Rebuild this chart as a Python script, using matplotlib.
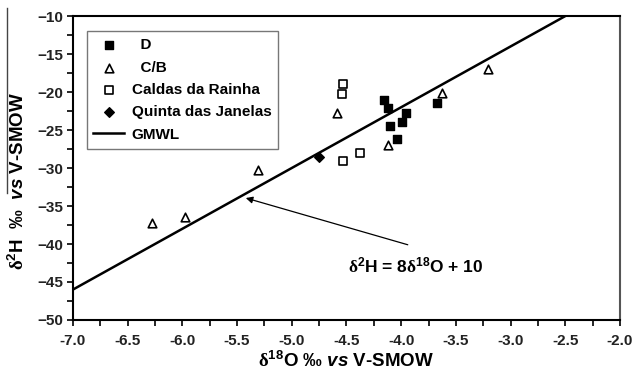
import matplotlib.pyplot as plt
import numpy as np

plt.rcParams['font.family'] = ['Liberation Sans', 'DejaVu Sans']
plt.rcParams['font.weight'] = 'bold'
plt.rcParams['mathtext.fontset'] = 'custom'
plt.rcParams['mathtext.rm'] = 'Liberation Sans:bold'
plt.rcParams['mathtext.it'] = 'Liberation Sans:italic:bold'
plt.rcParams['mathtext.bf'] = 'Liberation Sans:bold'
plt.rcParams['mathtext.cal'] = 'Liberation Serif'

# D group (filled squares)
d_x = [-4.16, -4.12, -3.96, -4.10, -3.99, -4.04, -3.67]
d_y = [-21.0, -22.1, -22.8, -24.5, -24.0, -26.2, -21.5]
# C/B group (open triangles)
cb_x = [-6.28, -5.98, -5.31, -4.59, -4.12, -3.63, -3.21]
cb_y = [-37.2, -36.5, -30.3, -22.7, -27.0, -20.1, -17.0]
# Caldas da Rainha (open squares)
cr_x = [-4.53, -4.54, -4.53, -4.38]
cr_y = [-19.0, -20.3, -29.1, -28.0]
# Quinta das Janelas (diamond)
qj_x = [-4.75]
qj_y = [-28.5]

# GMWL: d2H = 8*d18O + 10
gmwl_x = np.array([-7.0, -2.5])
gmwl_y = 8 * gmwl_x + 10

fig = plt.figure(figsize=(6.34, 3.79), dpi=100)
ax = fig.add_axes([0.115, 0.1557, 0.863, 0.802])

ax.scatter(d_x, d_y, marker='s', s=30, color='black', label='  D', zorder=3)
ax.scatter(cb_x, cb_y, marker='^', s=38, facecolor='white', edgecolor='black', linewidth=1.2, label='  C/B', zorder=3)
ax.scatter(cr_x, cr_y, marker='s', s=30, facecolor='white', edgecolor='black', linewidth=1.2, label='Caldas da Rainha', zorder=3)
ax.scatter(qj_x, qj_y, marker='D', s=24, color='black', label='Quinta das Janelas', zorder=3)
ax.plot(gmwl_x, gmwl_y, color='black', lw=1.8, label='GMWL', zorder=2)

# equation and arrow
ax.annotate('', xy=(-5.42, -33.95), xytext=(-3.94, -40.1),
            arrowprops=dict(arrowstyle='-|>', color='black', lw=0.9, shrinkA=0, shrinkB=0,
                            mutation_scale=10))
ax.text(-4.49, -42.8, r'$\mathcal{δ}^{2}$H = 8$\mathcal{δ}^{18}$O + 10', fontsize=12.5,
        fontweight='bold', va='center', ha='left')

ax.set_xlim(-7.0, -2.0)
ax.set_ylim(-50, -10)
ax.set_xticks(np.arange(-7.0, -1.99, 0.5))
ax.set_xticks(np.arange(-7.0, -1.99, 0.25), minor=True)
ax.set_yticks(np.arange(-50, -9, 5))
ax.set_yticks(np.arange(-50, -9, 2.5), minor=True)
ax.set_xticklabels(['%.1f' % v for v in np.arange(-7.0, -1.99, 0.5)])
ax.tick_params(which='both', direction='out', length=4, width=1.2, labelsize=11, colors='black')
ax.tick_params(axis='x', pad=6)
ax.tick_params(axis='y', pad=3)
for lab in ax.get_xticklabels() + ax.get_yticklabels():
    lab.set_fontweight('bold')
    lab.set_color('#222222')

for side in ['left', 'bottom', 'top']:
    ax.spines[side].set_linewidth(1.5)
    ax.spines[side].set_color('black')
ax.spines['right'].set_linewidth(1.5)
ax.spines['right'].set_color('#555555')

ax.set_xlabel(r'$\mathcal{δ}^{18}$O ‰ $\mathit{vs}$ V-SMOW', fontsize=13.5, fontweight='bold', labelpad=2)
fig.text(0.028, 1 - 181 / 379, r'$\mathcal{δ}^{2}$H  ‰  $\mathit{vs}$ V-SMOW', rotation=90,
         fontsize=13.5, fontweight='bold', ha='center', va='center')
fig.add_artist(plt.Line2D([7 / 634, 7 / 634], [1 - 8 / 379, 1 - 193 / 379], color='#444444', lw=1))

leg = ax.legend(loc='upper left', bbox_to_anchor=(0.011, 0.975), fontsize=11, frameon=True,
                fancybox=False, edgecolor='#777777', framealpha=1, handlelength=2.0,
                handletextpad=0.5, borderpad=0.45, labelspacing=0.55, scatterpoints=1)
leg.get_frame().set_linewidth(1.0)
for t in leg.get_texts():
    t.set_fontweight('bold')

fig.savefig('out.png', dpi=100)
